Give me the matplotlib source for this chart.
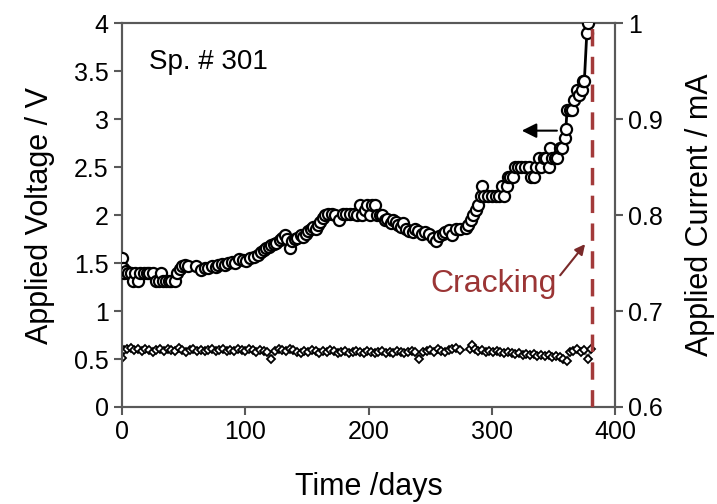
import matplotlib.pyplot as plt

plt.rcParams['font.family'] = ['Liberation Sans', 'DejaVu Sans']

# applied voltage (left axis)
v_days = [0, 1, 1.5, 3, 5, 7, 9, 11, 13, 15, 18, 20, 22, 25, 28, 30, 32, 33, 36, 38,
          40, 43, 45, 47, 49, 51, 54, 60, 64, 67, 70, 73, 76, 78, 81, 84, 86, 89, 92, 95,
          98, 101, 104, 107, 110, 113, 115, 117, 119, 121, 123, 125, 128, 130, 132, 134, 136, 138, 140, 142,
          145, 147, 149, 151, 153, 155, 157, 159, 161, 163, 165, 167, 170, 173, 176, 179, 182, 185, 188, 191,
          193, 195, 197, 199, 201, 203, 205, 207, 209, 211, 213, 215, 218, 220, 222, 224, 226, 228, 230, 233,
          236, 238, 240, 243, 246, 249, 252, 255, 257, 260, 262, 265, 268, 271, 274, 279, 281, 283, 285, 287,
          289, 291, 292, 294, 297, 300, 303, 306, 308, 310, 312, 313, 315, 317, 319, 321, 324, 327, 330, 332,
          334, 336, 338, 340, 342, 344, 346, 347, 349, 351, 353, 355, 357, 359, 360, 361, 363, 365, 367, 369,
          371, 373, 374, 375, 377, 378]
voltage = [1.55, 1.45, 1.40, 1.42, 1.40, 1.40, 1.31, 1.40, 1.31, 1.40, 1.40, 1.40, 1.40, 1.40, 1.31, 1.31, 1.40, 1.31, 1.31, 1.31,
           1.31, 1.31, 1.40, 1.44, 1.47, 1.48, 1.47, 1.47, 1.43, 1.45, 1.45, 1.47, 1.46, 1.48, 1.49, 1.48, 1.50, 1.51, 1.50, 1.54,
           1.53, 1.52, 1.55, 1.56, 1.58, 1.62, 1.64, 1.66, 1.67, 1.69, 1.70, 1.71, 1.74, 1.76, 1.79, 1.75, 1.66, 1.73, 1.75, 1.76,
           1.79, 1.77, 1.80, 1.83, 1.86, 1.88, 1.85, 1.90, 1.93, 1.97, 2.00, 2.01, 2.01, 2.00, 1.95, 2.01, 2.01, 2.01, 2.01, 2.00,
           2.10, 2.00, 2.05, 2.10, 2.00, 2.10, 2.10, 2.00, 2.00, 2.00, 1.95, 1.96, 1.92, 1.95, 1.93, 1.90, 1.88, 1.92, 1.86, 1.83,
           1.82, 1.85, 1.83, 1.80, 1.82, 1.80, 1.76, 1.73, 1.78, 1.80, 1.82, 1.84, 1.79, 1.85, 1.86, 1.87, 1.90, 1.95, 2.00, 2.05,
           2.10, 2.20, 2.30, 2.20, 2.20, 2.20, 2.20, 2.20, 2.30, 2.20, 2.30, 2.40, 2.40, 2.40, 2.50, 2.50, 2.50, 2.50, 2.50, 2.40,
           2.40, 2.50, 2.60, 2.50, 2.60, 2.60, 2.50, 2.70, 2.60, 2.60, 2.60, 2.70, 2.70, 2.80, 2.90, 3.10, 3.10, 3.10, 3.20, 3.30,
           3.25, 3.30, 3.40, 3.40, 3.90, 4.00]

# applied current (right axis)
i_days = [0, 2, 4, 7, 10, 13, 16, 19, 22, 25, 28, 31, 34, 37, 40, 43, 46, 49, 52, 55,
          58, 61, 64, 67, 70, 73, 76, 79, 82, 85, 88, 91, 94, 97, 100, 103, 106, 109, 112, 115,
          118, 121, 124, 127, 130, 133, 136, 139, 142, 145, 148, 151, 154, 157, 160, 163, 166, 169, 172, 175,
          178, 181, 184, 187, 190, 193, 196, 199, 202, 205, 208, 211, 214, 217, 220, 223, 226, 229, 232, 235,
          238, 241, 244, 247, 250, 253, 256, 259, 262, 265, 268, 271, 274, 282, 284, 286, 289, 292, 295, 298,
          301, 304, 307, 310, 313, 316, 319, 322, 325, 328, 331, 334, 337, 340, 343, 346, 349, 352, 355, 358,
          361, 363, 366, 369, 372, 375, 378, 380]
current = [0.651, 0.659, 0.660, 0.661, 0.659, 0.660, 0.658, 0.660, 0.659, 0.657, 0.659, 0.660, 0.658, 0.660, 0.659, 0.658, 0.661, 0.659, 0.657, 0.659,
           0.660, 0.658, 0.659, 0.658, 0.659, 0.660, 0.658, 0.659, 0.660, 0.658, 0.659, 0.658, 0.660, 0.659, 0.658, 0.660, 0.659, 0.657, 0.659, 0.658,
           0.657, 0.650, 0.658, 0.660, 0.659, 0.658, 0.660, 0.659, 0.657, 0.656, 0.658, 0.657, 0.659, 0.658, 0.656, 0.658, 0.657, 0.659, 0.658, 0.656,
           0.657, 0.658, 0.656, 0.657, 0.658, 0.657, 0.656, 0.658, 0.657, 0.656, 0.657, 0.658, 0.656, 0.657, 0.656, 0.658, 0.657, 0.656, 0.657, 0.658,
           0.657, 0.650, 0.657, 0.658, 0.659, 0.657, 0.660, 0.658, 0.657, 0.659, 0.660, 0.661, 0.659, 0.660, 0.665, 0.660, 0.658, 0.659, 0.657, 0.658,
           0.657, 0.658, 0.657, 0.656, 0.657, 0.656, 0.655, 0.656, 0.654, 0.655, 0.654, 0.655, 0.653, 0.654, 0.653, 0.654, 0.652, 0.653, 0.652, 0.650,
           0.648, 0.657, 0.658, 0.660, 0.657, 0.659, 0.650, 0.660]

crack_day = 381

fig = plt.figure(figsize=(7.17, 5.04), dpi=100)
ax = fig.add_axes([0.170, 0.1925, 0.688, 0.7615])
ax2 = ax.twinx()

ax2.plot(i_days, current, color='#808080', lw=1.5, marker='D', markersize=4.5,
         markerfacecolor='white', markeredgecolor='black', markeredgewidth=1.3, zorder=2)
ax.plot(v_days, voltage, color='black', lw=2, marker='o', markersize=8,
        markerfacecolor='white', markeredgecolor='black', markeredgewidth=1.6, zorder=3)
ax.set_zorder(ax2.get_zorder() + 1)
ax.patch.set_visible(False)

ax.axvline(crack_day, color='#a33a3a', lw=2.5, dashes=(5, 3), zorder=4)

ax.set_xlim(0, 400)
ax.set_ylim(0, 4)
ax2.set_ylim(0.6, 1.0)
ax.set_xticks([0, 100, 200, 300, 400])
ax.set_yticks([0, 0.5, 1, 1.5, 2, 2.5, 3, 3.5, 4])
ax.set_yticklabels(['0', '0.5', '1', '1.5', '2', '2.5', '3', '3.5', '4'])
ax2.set_yticks([0.6, 0.7, 0.8, 0.9, 1.0])
ax2.set_yticklabels(['0.6', '0.7', '0.8', '0.9', '1'])

for a in (ax, ax2):
    for s in a.spines.values():
        s.set_color('#595959')
        s.set_linewidth(1.5)
    a.tick_params(labelsize=18, color='#595959', width=1.5, length=6, direction='out')

ax.set_xlabel('Time /days', fontsize=22, labelpad=20)
ax.set_ylabel('Applied Voltage / V', fontsize=22, labelpad=14)
ax2.set_ylabel('Applied Current / mA', fontsize=22, labelpad=16)

ax.text(22, 3.6, 'Sp. # 301', fontsize=20, va='center')

ax.annotate('', xy=(322, 2.88), xytext=(355, 2.88),
            arrowprops=dict(arrowstyle='-|>', color='black', lw=1.5, mutation_scale=22))
ax.annotate('', xy=(377, 1.72), xytext=(354, 1.35),
            arrowprops=dict(arrowstyle='-|>', color='#7a2a2a', lw=1.5, mutation_scale=15))
ax.text(301, 1.28, 'Cracking', fontsize=23, color='#9b3535', ha='center', va='center')

fig.savefig('out.png', dpi=100)
